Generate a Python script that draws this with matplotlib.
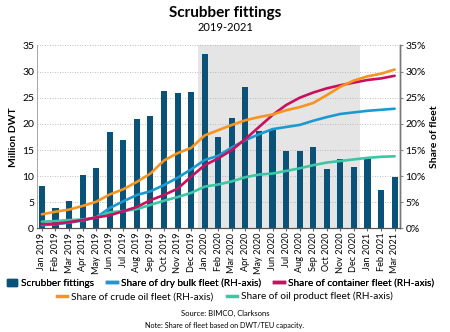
import matplotlib
matplotlib.use("Agg")
import matplotlib.pyplot as plt
from matplotlib.patches import Patch
from matplotlib.lines import Line2D

plt.rcParams['font.family'] = ['Lato', 'DejaVu Sans']

months = ['Jan 2019', 'Feb 2019', 'Mar 2019', 'Apr 2019', 'May 2019', 'Jun 2019',
          'Jul 2019', 'Aug 2019', 'Sep 2019', 'Oct 2019', 'Nov 2019', 'Dec 2019',
          'Jan 2020', 'Feb 2020', 'Mar 2020', 'Apr 2020', 'May 2020', 'Jun 2020',
          'Jul 2020', 'Aug 2020', 'Sep 2020', 'Oct 2020', 'Nov 2020', 'Dec 2020',
          'Jan 2021', 'Feb 2021', 'Mar 2021']

# million DWT
scrubber = [8.1, 3.9, 5.3, 10.2, 11.6, 18.5, 17.0, 21.0, 21.6, 26.3, 25.9, 26.1,
            33.3, 17.4, 21.2, 27.1, 18.6, 18.8, 14.8, 14.8, 15.5, 11.3, 13.3, 11.7,
            13.3, 7.4, 9.8]

# share of fleet, %
dry_bulk = [0.6, 0.8, 1.1, 1.5, 2.1, 3.9, 5.2, 6.4, 7.1, 8.3, 9.7, 11.3,
            13.1, 13.9, 15.5, 16.9, 18.0, 19.0, 19.4, 19.8, 20.6, 21.3, 21.9, 22.2,
            22.5, 22.7, 22.9]
container = [0.8, 0.9, 1.2, 1.6, 2.1, 2.5, 3.3, 4.1, 5.4, 6.4, 7.6, 9.9,
             12.1, 13.4, 15.0, 17.1, 19.4, 21.7, 23.6, 25.0, 26.0, 26.8, 27.4, 27.9,
             28.4, 28.7, 29.2]
crude = [2.7, 3.2, 3.6, 4.3, 5.1, 6.5, 7.5, 8.9, 10.5, 13.0, 14.4, 15.4,
         17.8, 18.8, 19.8, 20.7, 21.3, 21.8, 22.6, 23.2, 24.0, 25.5, 27.1, 28.3,
         29.1, 29.6, 30.4]
oil_product = [1.3, 1.4, 1.6, 1.7, 2.1, 3.1, 3.3, 3.7, 4.5, 5.3, 6.0, 6.8,
               8.0, 8.4, 9.0, 9.8, 10.3, 10.5, 11.0, 11.5, 12.1, 12.6, 12.9, 13.2,
               13.5, 13.7, 13.8]

c_bar = '#0b5278'
c_dry = '#1b9ad2'
c_cont = '#c8105e'
c_crude = '#f7941d'
c_prod = '#3cc6a6'

x = list(range(len(months)))

fig = plt.figure(figsize=(4.5, 3.32), dpi=100)
ax = fig.add_axes([0.082, 0.312, 0.807, 0.551])
ax2 = ax.twinx()

ax.axvspan(11.5, 23.45, color='#e5e5e5', zorder=0, lw=0)
ax.bar(x, scrubber, width=0.45, color=c_bar, zorder=2)
ax.set_ylim(0, 35)
ax.set_yticks(range(0, 36, 5))
ax.yaxis.grid(True, linestyle=(0, (1, 2)), color='#aaaaaa', lw=0.6, zorder=1)
ax.set_axisbelow(True)
ax.set_xlim(-0.37, 26.4)
ax.set_xticks(x)
ax.set_xticklabels(months, rotation=90, fontsize=6.6)
ax.tick_params(axis='y', labelsize=7.5, length=0, pad=2)
ax.tick_params(axis='x', length=2, pad=1, color='#666666')
ax.set_ylabel('Million DWT', fontsize=7.5, fontweight='bold', labelpad=3)

for vals, col in [(dry_bulk, c_dry), (oil_product, c_prod),
                  (container, c_cont), (crude, c_crude)]:
    ax2.plot(x, vals, color=col, lw=1.9, solid_capstyle='round', zorder=3)
ax2.set_ylim(0, 35)
ax2.set_yticks(range(0, 36, 5))
ax2.set_yticklabels([f'{v}%' for v in range(0, 36, 5)])
ax2.tick_params(axis='y', labelsize=7.5, length=2, pad=2, color='#888888')
ax2.set_ylabel('Share of fleet', fontsize=7.5, fontweight='bold', labelpad=3)

for a in (ax, ax2):
    a.spines['top'].set_visible(False)
    a.spines['left'].set_color('#999999')
    a.spines['right'].set_color('#777777')
    a.spines['bottom'].set_color('#555555')
    a.spines['left'].set_linewidth(0.6)
    a.spines['right'].set_linewidth(1.0)
ax2.spines['left'].set_visible(False)

fig.text(0.5, 0.962, 'Scrubber fittings', ha='center', va='center',
         fontsize=11, fontweight='bold')
fig.text(0.5, 0.918, '2019-2021', ha='center', va='center', fontsize=8)

h1 = [Patch(color=c_bar),
      Line2D([], [], color=c_dry, lw=2.5),
      Line2D([], [], color=c_cont, lw=2.5)]
l1 = ['Scrubber fittings', 'Share of dry bulk fleet (RH-axis)',
      'Share of container fleet (RH-axis)']
h2 = [Line2D([], [], color=c_crude, lw=2.5),
      Line2D([], [], color=c_prod, lw=2.5)]
l2 = ['Share of crude oil fleet (RH-axis)', 'Share of oil product fleet (RH-axis)']
kw = dict(frameon=False, fontsize=7.2, handlelength=1.0, handletextpad=0.4,
          columnspacing=1.3, borderaxespad=0)
leg1 = fig.legend(h1, l1, ncol=3, loc='center', bbox_to_anchor=(0.49, 0.147), **kw)
fig.add_artist(leg1)
fig.legend(h2, l2, ncol=2, loc='center', bbox_to_anchor=(0.5, 0.107), **kw)

fig.text(0.5, 0.057, 'Source: BIMCO, Clarksons', ha='center', va='center', fontsize=5.5)
fig.text(0.5, 0.02, 'Note: Share of fleet based on DWT/TEU capacity.', ha='center',
         va='center', fontsize=5.2)

fig.savefig('out.png', dpi=100)
